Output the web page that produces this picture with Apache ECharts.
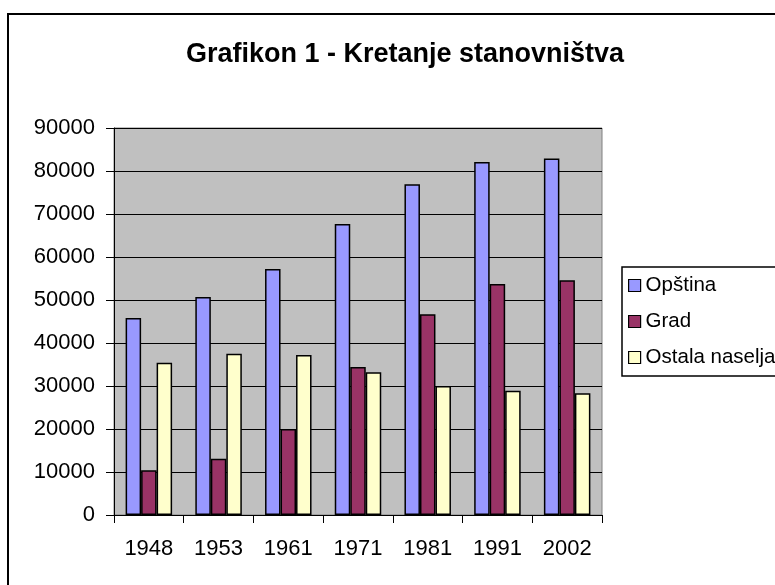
<!DOCTYPE html>
<html>
<head>
<meta charset="utf-8">
<script src="https://cdn.jsdelivr.net/npm/echarts@6/dist/echarts.min.js"></script>
<style>
  html, body { margin: 0; padding: 0; background: #fff; }
  #chart { width: 775px; height: 585px; }
</style>
</head>
<body>
<div id="chart"></div>
<script>
// data
var years = ['1948', '1953', '1961', '1971', '1981', '1991', '2002'];
var opstina = [45800, 50700, 57200, 67700, 76900, 82100, 82900];
var grad = [10400, 13100, 20000, 34400, 46700, 53700, 54600];
var ostala = [35400, 37500, 37200, 33200, 30000, 28900, 28300];
var seriesNames = ['Opština', 'Grad', 'Ostala naselja'];
var seriesColors = ['#9999FF', '#993366', '#FFFFCC'];

var myChart = echarts.init(document.getElementById('chart'));

function barSeries(name, data, color) {
    return {
        name: name,
        type: 'bar',
        data: data,
        barWidth: 15.5,
        barGap: '0%',
        itemStyle: {
            color: color,
            borderColor: '#000',
            borderWidth: 1.5
        }
    };
}

var option = {
    backgroundColor: '#fff',
    animation: false,
    textStyle: { fontFamily: 'Liberation Sans, Arial, sans-serif' },
    title: {
        text: 'Grafikon 1 - Kretanje stanovništva',
        left: 400,
        textAlign: 'center',
        top: 36,
        textStyle: {
            fontSize: 27,
            fontWeight: 'bold',
            color: '#000',
            fontFamily: 'Liberation Sans, Arial, sans-serif'
        }
    },
    // outer chart frame (runs off the right and bottom edge)
    graphic: [{
        type: 'rect',
        shape: { x: 8, y: 14, width: 800, height: 600 },
        style: { fill: null, stroke: '#000', lineWidth: 2 },
        silent: true,
        z: -1
    }],
    legend: {
        orient: 'vertical',
        left: 622,
        top: 267,
        padding: [8, 10, 8, 6],
        itemGap: 15,
        itemWidth: 12,
        itemHeight: 12,
        itemTextGap: 8,
        borderColor: '#000',
        borderWidth: 1.5,
        icon: 'rect',
        itemStyle: { borderColor: '#000', borderWidth: 1.2 },
        textStyle: {
            fontSize: 20.5,
            lineHeight: 20,
            color: '#000',
            fontFamily: 'Liberation Sans, Arial, sans-serif'
        },
        data: seriesNames
    },
    grid: {
        left: 114,
        top: 128,
        width: 488,
        height: 387,
        show: true,
        backgroundColor: '#C0C0C0',
        borderColor: '#808080',
        borderWidth: 1
    },
    xAxis: {
        type: 'category',
        data: years,
        boundaryGap: true,
        axisLine: { lineStyle: { color: '#000', width: 1 } },
        axisTick: { show: true, alignWithLabel: false, length: 8, lineStyle: { color: '#000' } },
        axisLabel: { fontSize: 22, color: '#000', margin: 23 },
        splitLine: { show: false }
    },
    yAxis: {
        type: 'value',
        min: 0,
        max: 90000,
        interval: 10000,
        axisLine: { show: true, lineStyle: { color: '#000', width: 1 } },
        axisTick: { show: true, length: 8, lineStyle: { color: '#000' } },
        axisLabel: {
            fontSize: 22,
            color: '#000',
            margin: 19,
            formatter: function (v) { return String(v); }
        },
        splitLine: { show: true, lineStyle: { color: '#000', width: 1 } }
    },
    series: [
        barSeries(seriesNames[0], opstina, seriesColors[0]),
        barSeries(seriesNames[1], grad, seriesColors[1]),
        barSeries(seriesNames[2], ostala, seriesColors[2])
    ]
};

myChart.setOption(option);
</script>
</body>
</html>
